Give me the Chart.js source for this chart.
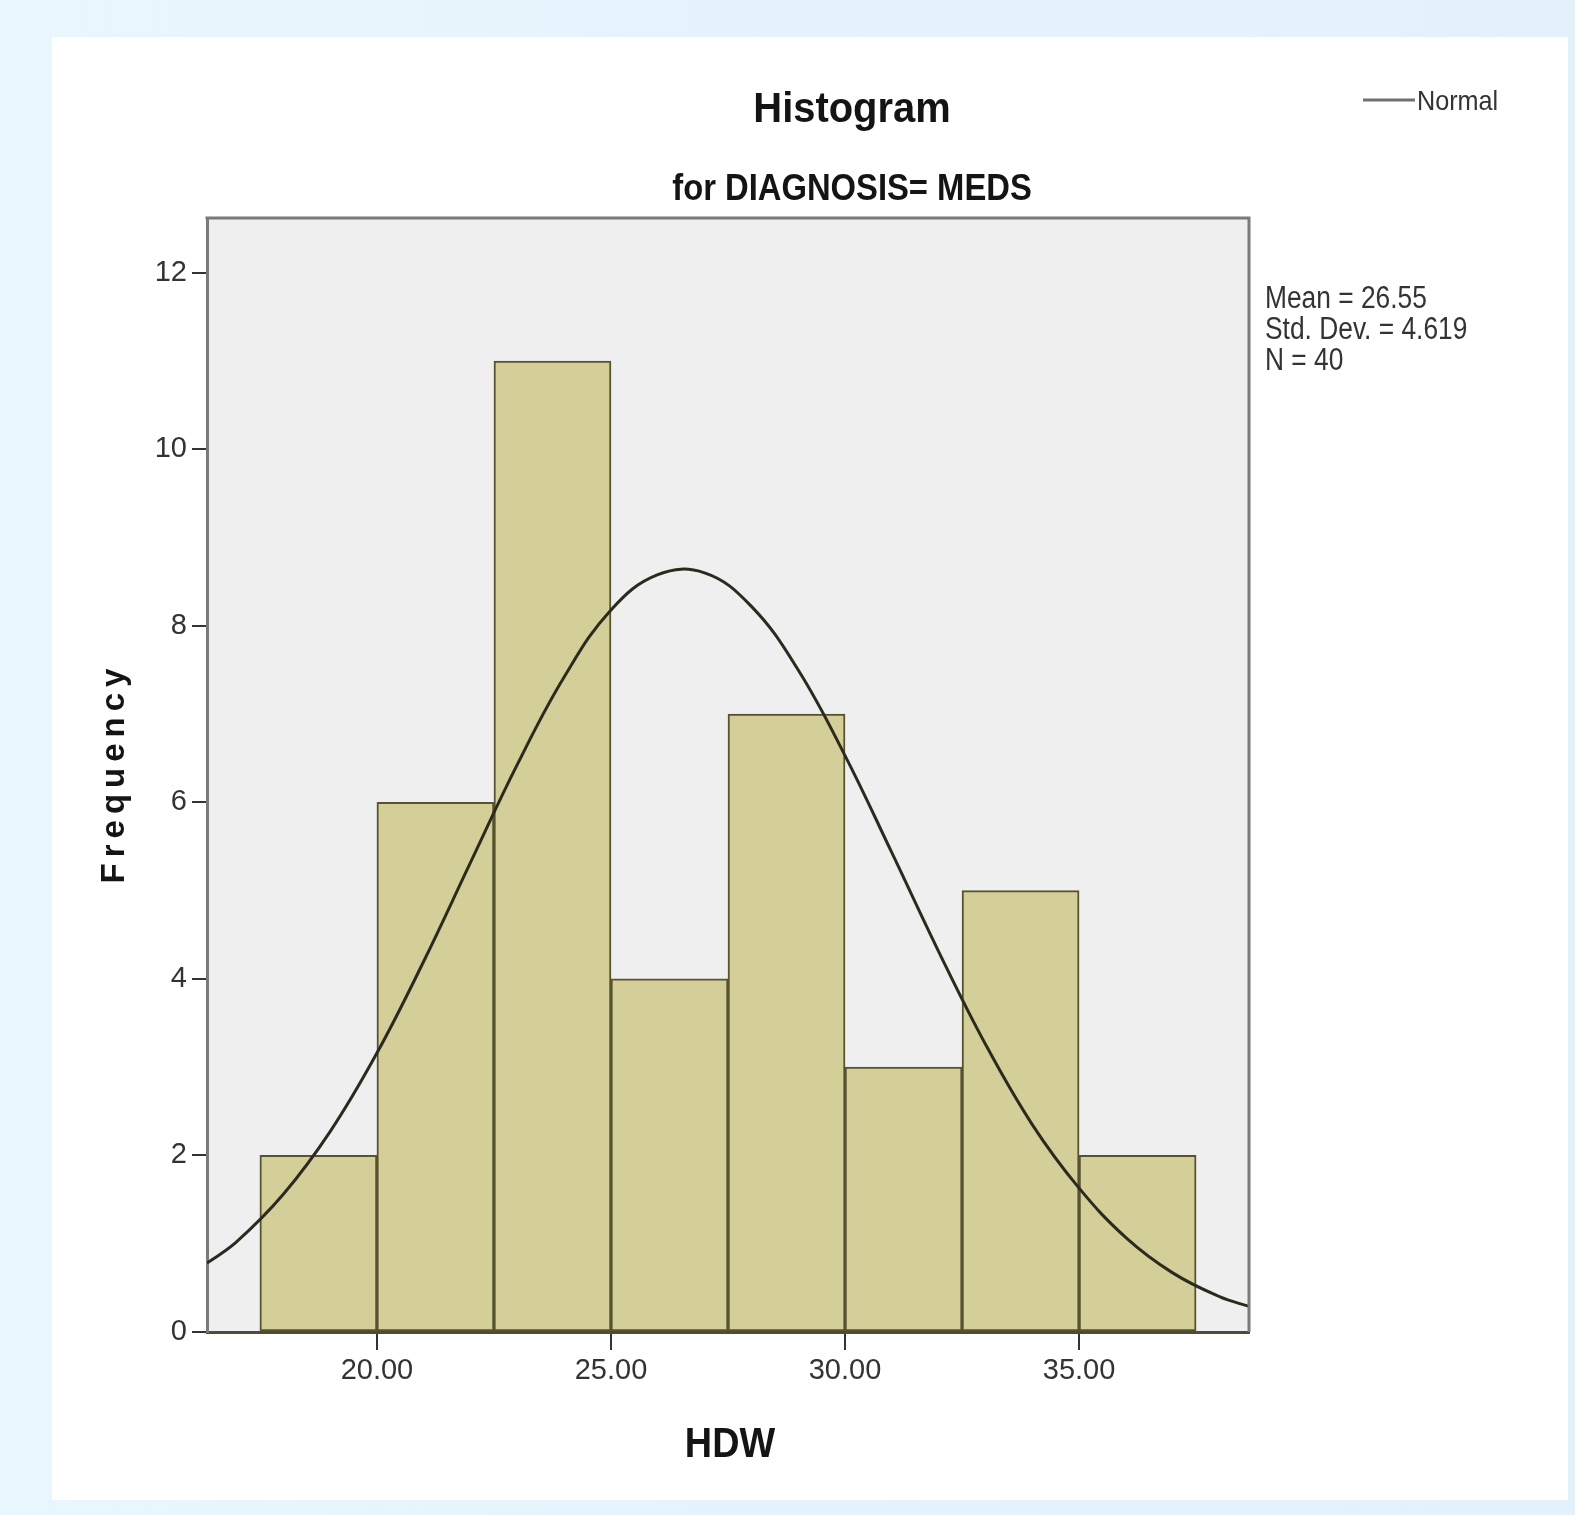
<!DOCTYPE html>
<html>
<head>
<meta charset="utf-8">
<script src="https://cdn.jsdelivr.net/npm/chart.js@4.4.1/dist/chart.umd.min.js"></script>
<style>
  html, body { margin: 0; padding: 0; width: 1575px; height: 1515px; overflow: hidden;
    background: linear-gradient(to right, #eaf6fd 0%, #e6f3fc 50%, #e3f1fb 100%); }
  #card { position: absolute; left: 52px; top: 37px; width: 1516px; height: 1463px; background: #ffffff; }
  #c { position: absolute; left: 0; top: 0; }
</style>
</head>
<body>
<div id="card"></div>
<canvas id="c" width="1575" height="1515"></canvas>
<script>
// ---- data ----
const binStarts = [17.5, 20.0, 22.5, 25.0, 27.5, 30.0, 32.5, 35.0];
const binWidth = 2.5;
const frequencies = [2, 6, 11, 4, 7, 3, 5, 2];
// Normal curve, points
const curveX = [16.37, 17, 18, 19, 20, 21, 22, 23, 24, 25, 26, 27, 28, 29, 30, 31, 32, 33, 34, 35, 36, 37, 38, 38.63];
const curveY = [0.78, 1.02, 1.56, 2.27, 3.16, 4.2, 5.32, 6.43, 7.42, 8.18, 8.58, 8.6, 8.22, 7.5, 6.53, 5.43, 4.31, 3.26, 2.35, 1.63, 1.07, 0.67, 0.4, 0.29];
const xTickValues = [20, 25, 30, 35];
const yTickValues = [0, 2, 4, 6, 8, 10, 12];
const statsLines = ["Mean = 26.55", "Std. Dev. = 4.619", "N = 40"];
const titleText = "Histogram";
const subtitleText = "for DIAGNOSIS= MEDS";
const xTitle = "HDW";
const yTitle = "Frequency";
const legendLabel = "Normal";

const barData = binStarts.map((s, i) => ({ x: s + binWidth / 2, y: frequencies[i] }));
const lineData = curveX.map((x, i) => ({ x: x, y: curveY[i] }));

const TICK_FONT = { family: '"Liberation Sans", Arial, sans-serif', size: 29 };

function drawText(ctx, text, x, y, font, sx, align, color) {
  ctx.save();
  ctx.translate(x, y);
  ctx.scale(sx, 1);
  ctx.font = font;
  ctx.fillStyle = color || '#111';
  ctx.textAlign = align || 'center';
  ctx.textBaseline = 'alphabetic';
  ctx.fillText(text, 0, 0);
  ctx.restore();
}

const decor = {
  id: 'decor',
  beforeDraw(chart) {
    const { ctx, chartArea: a } = chart;
    ctx.save();
    ctx.fillStyle = '#efefef';
    ctx.fillRect(a.left, a.top, a.right - a.left, a.bottom - a.top);
    ctx.restore();
  },
  afterDraw(chart) {
    const { ctx, chartArea: a } = chart;
    ctx.save();
    ctx.strokeStyle = '#7a7a7a';
    ctx.lineWidth = 3;
    ctx.beginPath();
    ctx.moveTo(a.left - 1.5, a.top);
    ctx.lineTo(a.right, a.top);
    ctx.lineTo(a.right, a.bottom);
    ctx.stroke();
    ctx.restore();

    drawText(ctx, titleText, 852, 122, 'bold 42px "Liberation Sans", Arial, sans-serif', 0.95, 'center', '#141414');
    drawText(ctx, subtitleText, 852, 200, 'bold 36px "Liberation Sans", Arial, sans-serif', 0.91, 'center', '#141414');
    drawText(ctx, xTitle, 730, 1457, 'bold 42px "Liberation Sans", Arial, sans-serif', 0.9, 'center', '#141414');

    ctx.save();
    ctx.translate(124, 776);
    ctx.rotate(-Math.PI / 2);
    ctx.font = 'bold 33px "Liberation Sans", Arial, sans-serif';
    ctx.fillStyle = '#141414';
    ctx.textAlign = 'center';
    ctx.textBaseline = 'alphabetic';
    try { ctx.letterSpacing = '6px'; } catch (e) {}
    ctx.fillText(yTitle, 3, 0);
    ctx.restore();

    ctx.save();
    ctx.strokeStyle = '#707070';
    ctx.lineWidth = 3;
    ctx.beginPath();
    ctx.moveTo(1363, 100);
    ctx.lineTo(1415, 100);
    ctx.stroke();
    ctx.restore();
    drawText(ctx, legendLabel, 1417, 110, '28px "Liberation Sans", Arial, sans-serif', 0.9, 'left', '#333');

    const baselines = [308, 339, 370];
    statsLines.forEach((t, i) => {
      drawText(ctx, t, 1265, baselines[i], '31px "Liberation Sans", Arial, sans-serif', 0.85, 'left', '#333');
    });
  }
};

new Chart(document.getElementById('c'), {
  type: 'bar',
  data: {
    datasets: [
      {
        type: 'line',
        label: legendLabel,
        data: lineData,
        borderColor: '#2b2a1e',
        borderWidth: 3,
        pointRadius: 0,
        fill: false,
        tension: 0.4,
        order: 0
      },
      {
        type: 'bar',
        label: 'Frequency',
        data: barData,
        backgroundColor: '#d4cf98',
        borderColor: '#57522f',
        borderWidth: 2,
        borderSkipped: false,
        barPercentage: 1.0,
        categoryPercentage: 1.0,
        order: 1
      }
    ]
  },
  options: {
    responsive: false,
    devicePixelRatio: 1,
    animation: false,
    layout: { padding: { left: 0, top: 218, right: 326, bottom: 83 } },
    plugins: { legend: { display: false }, tooltip: { enabled: false }, title: { display: false } },
    scales: {
      x: {
        type: 'linear',
        min: 16.37,
        max: 38.63,
        offset: false,
        afterFit(s) { s.height = 100; },
        afterBuildTicks(s) { s.ticks = xTickValues.map(v => ({ value: v })); },
        grid: { display: true, drawOnChartArea: false, drawTicks: true, tickLength: 18, color: '#333', lineWidth: 2, offset: false },
        border: { display: true, color: '#4e4b36', width: 3 },
        ticks: { font: TICK_FONT, color: '#333', padding: 4, maxRotation: 0, autoSkip: false,
                 callback: (v) => Number(v).toFixed(2) }
      },
      y: {
        type: 'linear',
        min: 0,
        max: 12.62,
        afterFit(s) { s.width = 207; },
        afterBuildTicks(s) { s.ticks = yTickValues.map(v => ({ value: v })); },
        grid: { display: true, drawOnChartArea: false, drawTicks: true, tickLength: 15, color: '#333', lineWidth: 2 },
        border: { display: true, color: '#7a7a7a', width: 3 },
        ticks: { font: TICK_FONT, color: '#333', padding: 5, autoSkip: false,
                 callback: (v) => String(v) }
      }
    }
  },
  plugins: [decor]
});
</script>
</body>
</html>
